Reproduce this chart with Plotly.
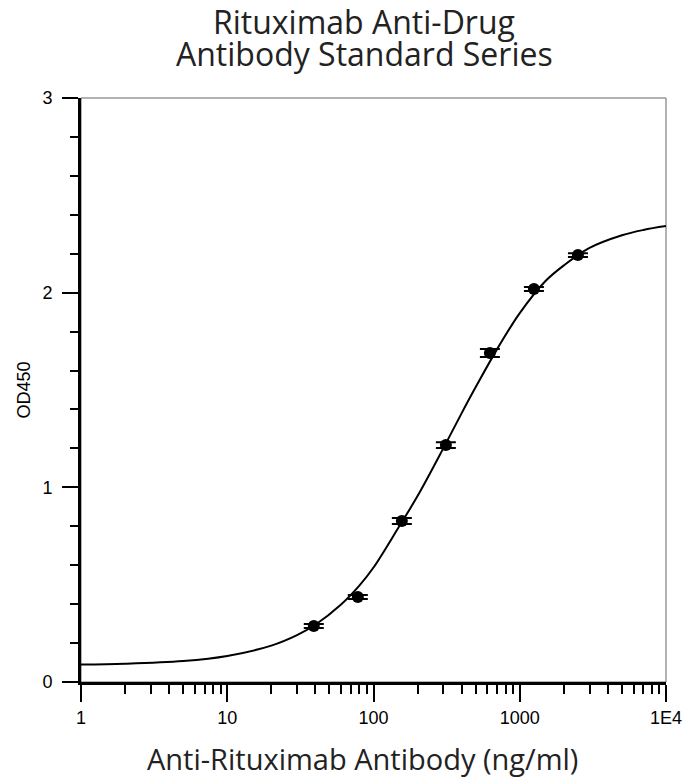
import plotly.graph_objects as go

# Standard series (ng/ml) and measured OD450
conc = [39.06, 78.125, 156.25, 312.5, 625, 1250, 2500]
od450 = [0.288, 0.437, 0.827, 1.217, 1.690, 2.019, 2.193]
od_err = [0.010, 0.010, 0.015, 0.015, 0.020, 0.010, 0.010]

# Fitted curve
curve_x = [1, 2, 5, 10, 20, 30, 40, 60, 80, 100, 150, 200, 300, 400, 500, 700,
           1000, 1500, 2000, 3000, 5000, 7000, 10000]
curve_y = [0.090, 0.094, 0.108, 0.134, 0.187, 0.241, 0.294, 0.398, 0.495, 0.588,
           0.800, 0.955, 1.200, 1.380, 1.515, 1.710, 1.895, 2.060, 2.140, 2.230,
           2.295, 2.322, 2.342]

x_tickvals = [1, 10, 100, 1000, 10000]
x_ticktext = ["1", "10", "100", "1000", "1E4"]
y_tickvals = [0, 1, 2, 3]

title_lines = ["Rituximab Anti-Drug", "Antibody Standard Series"]
x_title = "Anti-Rituximab Antibody (ng/ml)"
y_title = "OD450"

minor_x = [m * 10 ** e for e in range(4) for m in range(2, 10)]

fig = go.Figure()
fig.add_trace(go.Scatter(x=curve_x, y=curve_y, mode="lines",
                         line=dict(color="black", width=2, shape="spline"),
                         hoverinfo="skip", showlegend=False))
fig.add_trace(go.Scatter(x=conc, y=od450, mode="markers",
                         marker=dict(color="black", size=12),
                         error_y=dict(type="data", array=od_err, color="black", thickness=2, width=10),
                         showlegend=False))

fig.add_shape(type="rect", xref="paper", yref="paper", x0=0, y0=0, x1=1, y1=1,
              line=dict(color="#666666", width=1), layer="below")

title_font = dict(family="Open Sans", size=32, color="#222222")
fig.add_annotation(text=title_lines[0], xref="paper", yref="paper", x=0.4838, y=1.1305,
                   xanchor="center", yanchor="middle", showarrow=False, font=title_font)
fig.add_annotation(text=title_lines[1], xref="paper", yref="paper", x=0.4838, y=1.0757,
                   xanchor="center", yanchor="middle", showarrow=False, font=title_font)
fig.add_annotation(text=x_title, xref="paper", yref="paper", x=0.4812, y=-0.1318,
                   xanchor="center", yanchor="middle", showarrow=False,
                   font=dict(family="Open Sans", size=29, color="#222222"))

tickfont = dict(family="Liberation Sans, Arial", size=18, color="black")
fig.update_layout(
    width=685, height=780,
    margin=dict(l=81, r=19, t=98, b=98, autoexpand=False),
    paper_bgcolor="white", plot_bgcolor="white",
    xaxis=dict(type="log", range=[0, 4], tickvals=x_tickvals, ticktext=x_ticktext,
               ticks="outside", ticklen=17, tickwidth=2, tickcolor="black",
               minor=dict(tickvals=minor_x, ticks="outside", ticklen=9, tickwidth=1.5, tickcolor="black"),
               showline=True, linecolor="black", linewidth=3, showgrid=False, zeroline=False,
               tickfont=tickfont, automargin=False),
    yaxis=dict(range=[0, 3], tickvals=y_tickvals, ticklabelstandoff=6,
               ticks="outside", ticklen=16, tickwidth=2, tickcolor="black",
               minor=dict(dtick=0.2, ticks="outside", ticklen=8, tickwidth=1.5, tickcolor="black"),
               showline=True, linecolor="black", linewidth=3, showgrid=False, zeroline=False,
               tickfont=tickfont, automargin=False,
               title=dict(text=y_title, standoff=8,
                          font=dict(family="Liberation Sans, Arial", size=18, color="black"))),
)

fig.write_html("out.html", config={"displayModeBar": False},
               post_script="document.body.style.margin='0';")
